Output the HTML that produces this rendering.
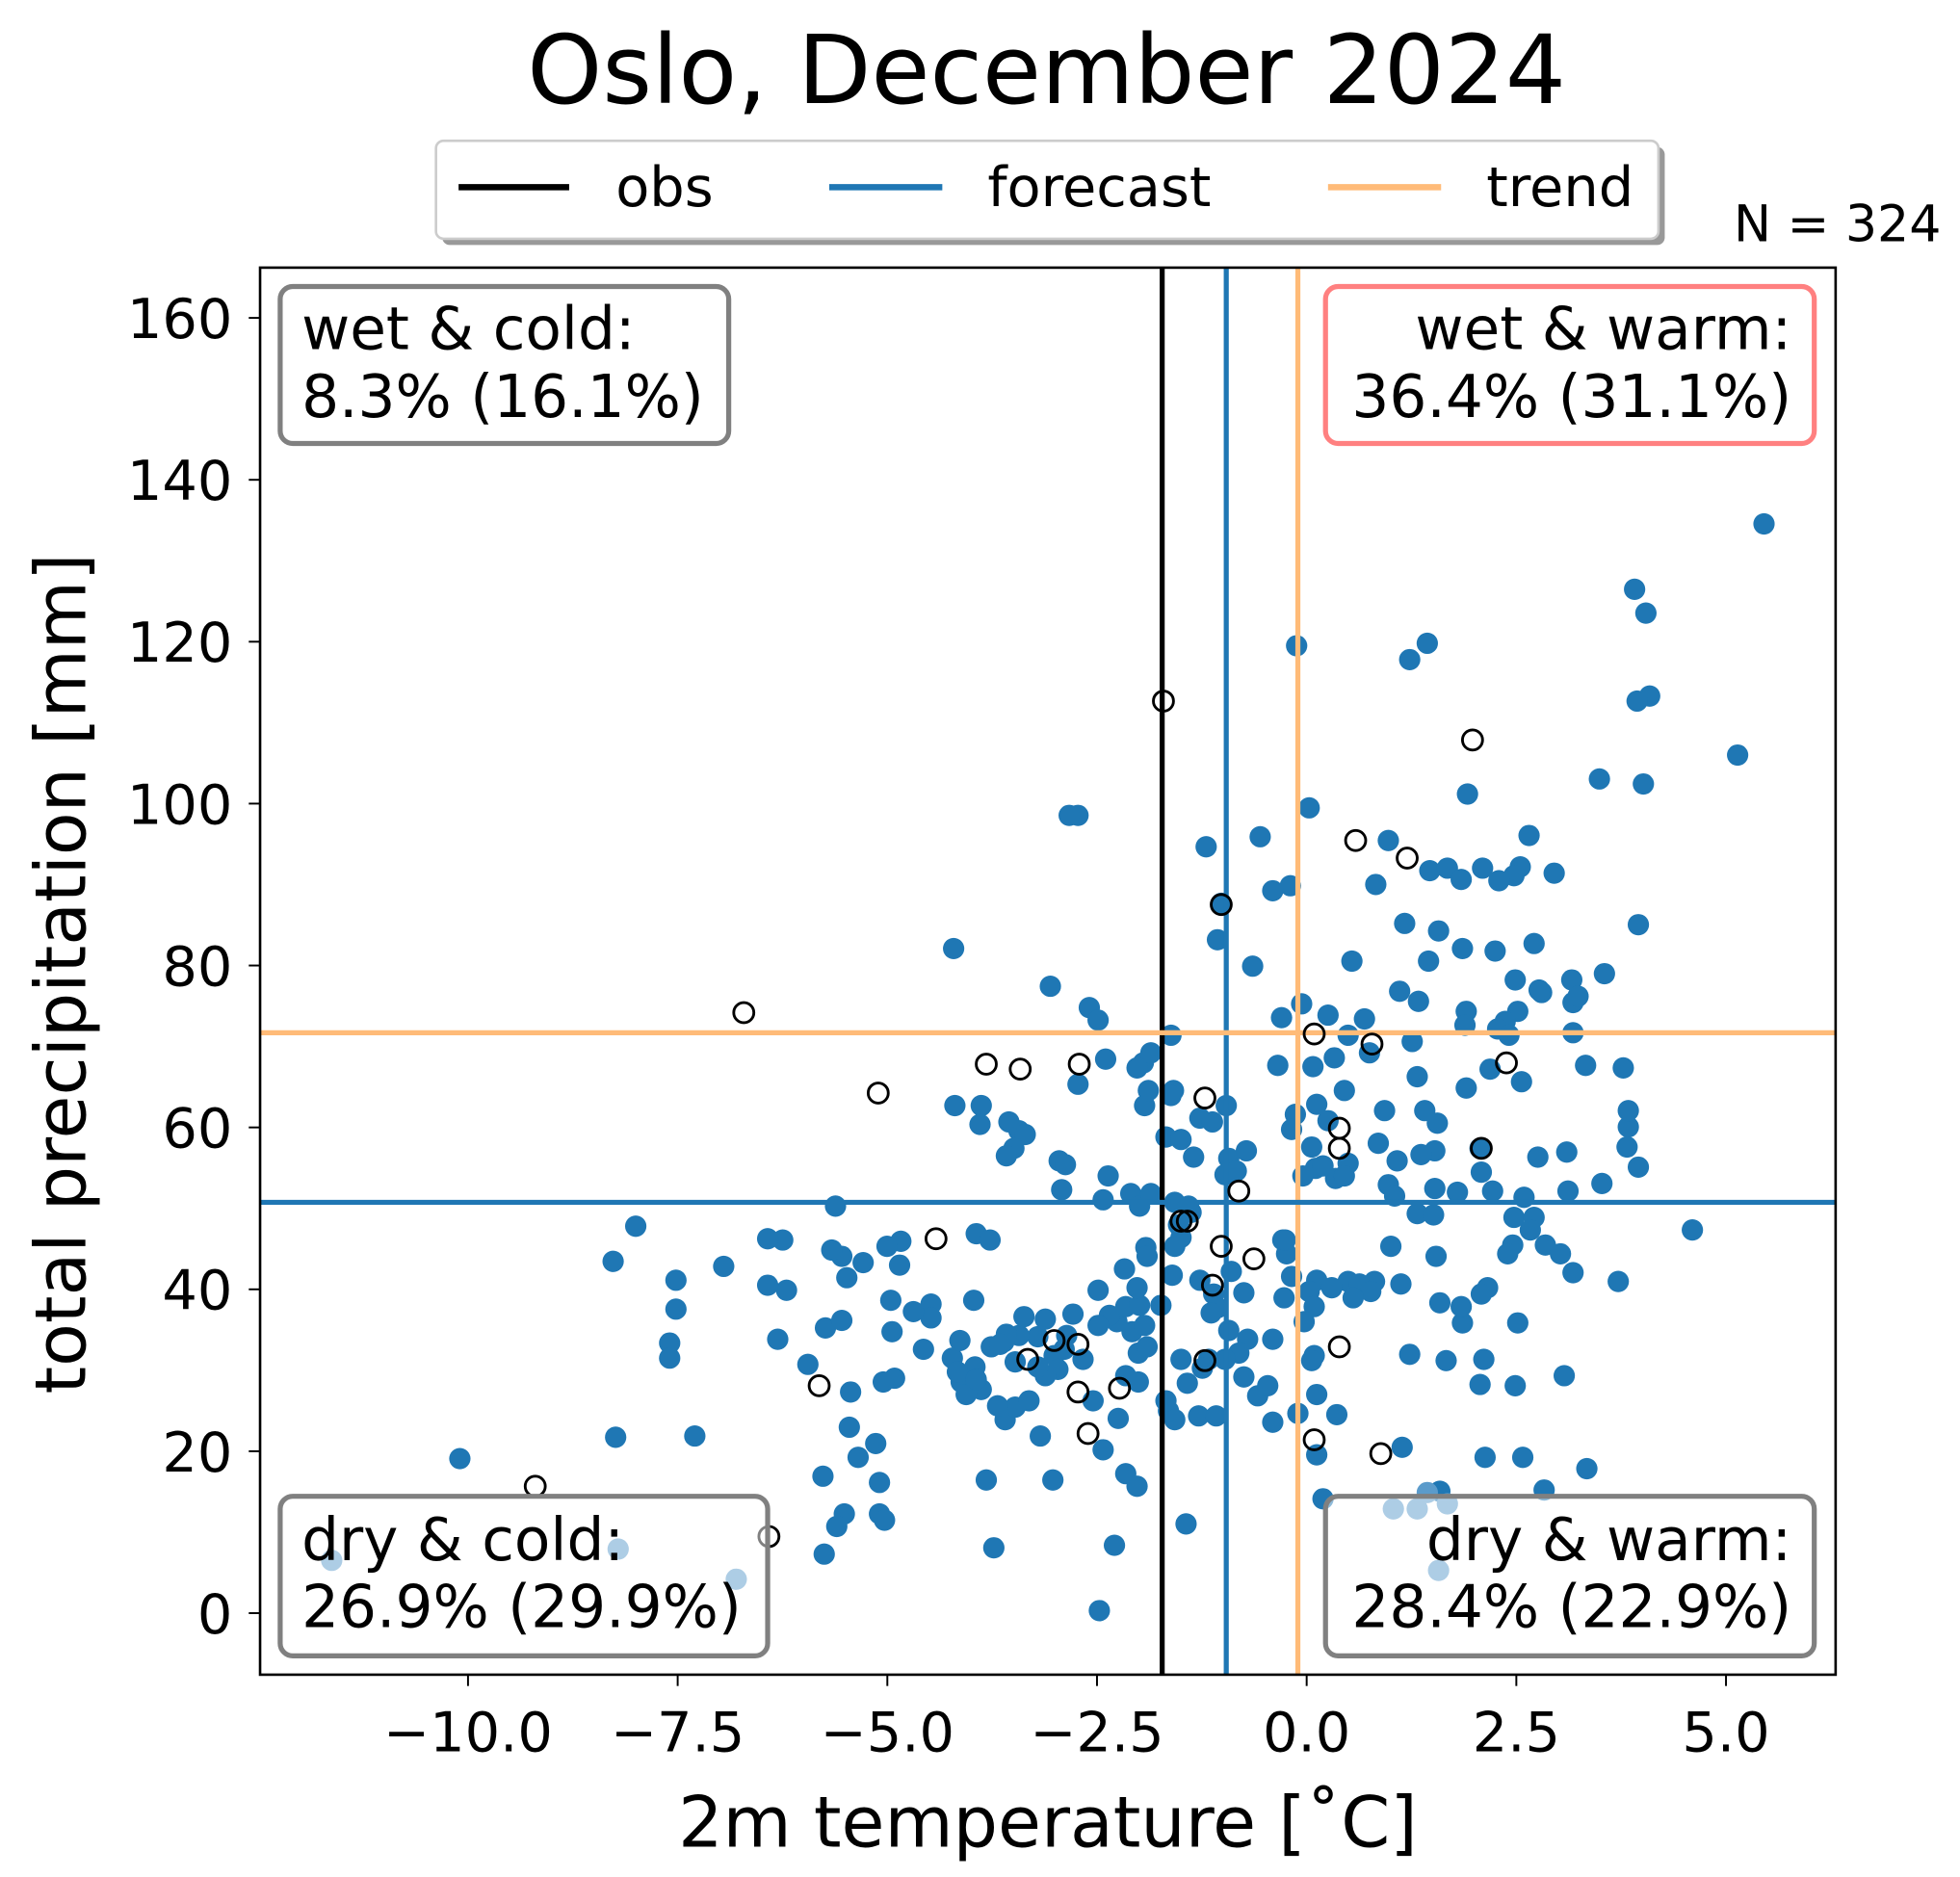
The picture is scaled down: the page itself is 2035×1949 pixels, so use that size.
<!DOCTYPE html>
<html><head><meta charset="utf-8"><style>
html,body{margin:0;padding:0;background:#fff;}
svg{display:block;}
text{font-family:"DejaVu Sans","Liberation Sans",sans-serif;fill:#000;}
</style></head><body>
<svg id="s" width="2035" height="1949" viewBox="0 0 1560 1494" xmlns="http://www.w3.org/2000/svg">
<rect width="1560" height="1494" fill="#fff"/>
<text x="833" y="82" font-size="76" text-anchor="middle">Oslo, December 2024</text>
<rect x="352" y="117" width="973" height="78" rx="6" fill="#999"/>
<rect x="347" y="112" width="973" height="78" rx="6" fill="#fff" stroke="#ccc" stroke-width="2"/>
<line x1="365" y1="149" x2="453" y2="149" stroke="#000" stroke-width="5"/>
<text x="490" y="164" font-size="44">obs</text>
<line x1="660" y1="149" x2="750" y2="149" stroke="#1f77b4" stroke-width="5"/>
<text x="786" y="164" font-size="44">forecast</text>
<line x1="1057" y1="149" x2="1147" y2="149" stroke="#ffbb78" stroke-width="5"/>
<text x="1183" y="164" font-size="44">trend</text>
<text x="1545" y="192" font-size="40" text-anchor="end">N = 324</text>
<g id="pts"></g>
<line x1="925" y1="213" x2="925" y2="1333" stroke="#000" stroke-width="4"/>
<line x1="976" y1="213" x2="976" y2="1333" stroke="#1f77b4" stroke-width="4"/>
<line x1="1033" y1="213" x2="1033" y2="1333" stroke="#ffbb78" stroke-width="4"/>
<line x1="207" y1="822" x2="1461" y2="822" stroke="#ffbb78" stroke-width="4"/>
<line x1="207" y1="957" x2="1461" y2="957" stroke="#1f77b4" stroke-width="4"/>
<g id="obs"></g>
<g font-size="47">
<rect x="223" y="228" width="357" height="125" rx="10" fill="#fff" fill-opacity="0.5" stroke="#808080" stroke-width="4"/>
<text x="240" y="278">wet &amp; cold:</text><text x="240" y="332">8.3% (16.1%)</text>
<rect x="1055" y="228" width="389" height="125" rx="10" fill="#fff" fill-opacity="0.5" stroke="#ff8080" stroke-width="4"/>
<text x="1426" y="278" text-anchor="end">wet &amp; warm:</text><text x="1426" y="332" text-anchor="end">36.4% (31.1%)</text>
<rect x="223" y="1191" width="388" height="127" rx="10" fill="#fff" fill-opacity="0.5" stroke="#808080" stroke-width="4"/>
<text x="240" y="1242">dry &amp; cold:</text><text x="240" y="1295">26.9% (29.9%)</text>
<rect x="1055" y="1191" width="389" height="127" rx="10" fill="#fff" fill-opacity="0.5" stroke="#808080" stroke-width="4"/>
<text x="1426" y="1242" text-anchor="end">dry &amp; warm:</text><text x="1426" y="1295" text-anchor="end">28.4% (22.9%)</text>
</g>
<rect x="207" y="213" width="1254" height="1120" fill="none" stroke="#000" stroke-width="2"/>
<g id="ticks" font-size="44"></g>
<text x="834" y="1470" font-size="56" text-anchor="middle">2m temperature [˚C]</text>
<text transform="translate(68,775) rotate(-90)" font-size="56" text-anchor="middle">total precipitation [mm]</text>
</svg>
<script>
var NS="http://www.w3.org/2000/svg";
function el(p,t,a,txt){var e=document.createElementNS(NS,t);for(var k in a)e.setAttribute(k,a[k]);if(txt)e.textContent=txt;p.appendChild(e);return e;}
var P=[1404,417,1301,469,1310,488,1136,512,1122,525,1032,514,1313,554,1303,558,1383,601,1273,620,1308,624,1168,632,1042,643,1003,666,1105,669,1138,693,1152,691,1180,691,1210,690,1205,697,1163,700,1193,701,1095,704,1027,705,1013,709,960,674,1217,665,1237,695,858,649,1304,736,1118,735,1221,751,1145,741,1164,755,1277,775,1137,765,1190,757,1206,780,1251,780,1227,790,1036,799,1208,805,1225,788,972,719,969,748,997,769,1076,765,1114,789,1252,798,1256,793,1129,797,1167,805,1198,813,1020,810,1057,808,1086,811,1073,824,1062,842,1124,829,1045,849,1166,816,1192,819,1201,824,1252,822,1090,838,1128,857,1186,851,1167,866,1211,861,1262,848,1292,850,1017,848,1031,887,1048,879,1057,892,1070,868,1044,913,1028,899,1102,884,1097,910,1073,926,1112,924,1144,894,1134,884,1047,930,1037,936,1063,938,1070,936,1053,928,1142,916,1178,914,1224,921,1247,917,1179,933,1131,919,1296,897,1295,913,1304,929,1296,884,1275,942,1248,948,1213,953,1105,943,1110,952,1128,966,1141,967,1142,946,1160,949,1188,948,1205,969,1221,969,1218,979,1204,991,1230,991,1242,998,1347,979,1288,1020,1252,1013,1200,998,1143,1000,1184,1025,1179,1030,1146,1037,1107,992,1115,1022,1094,1020,1048,1019,1073,1020,1082,1022,1091,1028,1060,1025,1077,1033,1042,1028,1021,987,1028,1016,1046,1040,1022,1033,1038,1052,1013,1066,1046,1079,1044,1083,1122,1078,1151,1083,1181,1082,1206,1103,1178,1102,1245,1095,1164,1053,1163,1040,1208,1053,1048,1110,1064,1126,1048,1158,1033,1125,1053,1193,1116,1152,1182,1160,1212,1160,1263,1169,1229,1186,1146,1187,1024,998,1023,987,
851,649,759,755,836,785,867,802,874,812,910,846,916,838,880,843,905,850,932,824,858,863,911,880,955,890,928,905,940,907,760,880,781,880,780,895,803,893,811,900,816,903,807,914,801,920,843,924,848,927,845,947,882,936,878,955,900,950,907,960,950,921,914,868,934,868,932,872,976,880,965,893,978,922,992,916,975,935,984,932,946,960,935,957,948,965,938,975,940,985,912,993,933,1015,955,1019,966,1030,980,1012,990,1029,969,1041,964,1045,978,1059,993,1066,986,1077,975,1082,962,1082,957,1089,940,1082,990,1096,1001,1111,1009,1103,1013,1132,945,1101,954,1127,968,1127,935,1130,930,1123,944,1213,928,1115,906,1100,896,1095,906,1077,913,1072,901,1060,889,1052,883,1047,896,1040,874,1027,874,1055,854,1046,849,1063,839,1079,862,1082,842,1090,832,1095,826,1064,811,1063,799,1068,789,1072,815,1048,847,1074,907,1039,924,1039,870,1115,890,1129,878,1154,896,1173,905,1183,887,1230,875,1282,838,1178,828,1143,800,1130,808,1120,785,1178,791,1232,794,1119,781,1106,776,1088,765,1100,764,1067,758,1081,775,1035,801,1062,777,982,788,987,796,1070,741,1038,741,1049,735,1074,762,1092,727,1044,709,1035,710,1060,716,1007,717,988,706,992,687,1005,670,1000,674,1017,665,960,662,995,657,1057,670,1051,677,1108,676,1136,683,1160,712,1097,703,1100,700,1205,704,1210,700,1180,697,1149,672,1205,656,1237,666,1215,655,1175,643,1086,626,1027,619,1066,611,1023,623,987,611,986,576,1008,553,1143,538,1019,538,1042,533,1069,533,1081,506,976,488,1004,490,1144,366,1161,832,1050,826,1088,808,1084,819,1115,769,1110,777,1098,911,1055,905,1025,895,1010,913,1000,916,950,935,992];
var L=[264,1242,492,1233,586,1257,1109,1201,1128,1201,1152,1197,1145,1250,1136,1188];
var O=[926,558,1172,589,1079,669,1120,683,972,720,592,806,1046,823,1092,831,785,847,812,851,859,847,1199,846,699,870,959,874,1179,914,1066,898,1066,914,986,948,940,972,945,972,972,992,998,1002,965,1023,745,986,839,1067,858,1070,818,1082,959,1083,1066,1072,652,1103,858,1108,891,1105,866,1141,1046,1146,1099,1157,426,1183,612,1223];
var g=document.getElementById('pts'),go=document.getElementById('obs');
for(var i=0;i<P.length;i+=2)el(g,'circle',{cx:P[i],cy:P[i+1],r:8.5,fill:'#1f77b4'});
for(i=0;i<L.length;i+=2)el(g,'circle',{cx:L[i],cy:L[i+1],r:8.5,fill:'#5b9bcb'});
for(i=0;i<O.length;i+=2)el(go,'circle',{cx:O[i],cy:O[i+1],r:8,fill:'none',stroke:'#000','stroke-width':2.2});
var t=document.getElementById('ticks');
var xs=[[-10,'−10.0'],[-7.5,'−7.5'],[-5,'−5.0'],[-2.5,'−2.5'],[0,'0.0'],[2.5,'2.5'],[5,'5.0']];
xs.forEach(function(a){var x=1040+a[0]*66.75;el(t,'line',{x1:x,y1:1333,x2:x,y2:1342,stroke:'#000','stroke-width':1.5});el(t,'text',{x:x,y:1394,'text-anchor':'middle'},a[1]);});
for(var v=0;v<=160;v+=20){var y=1284-v*6.4437;el(t,'line',{x1:198,y1:y,x2:207,y2:y,stroke:'#000','stroke-width':1.5});el(t,'text',{x:185,y:y+16,'text-anchor':'end'},String(v));}
</script>
</body></html>
